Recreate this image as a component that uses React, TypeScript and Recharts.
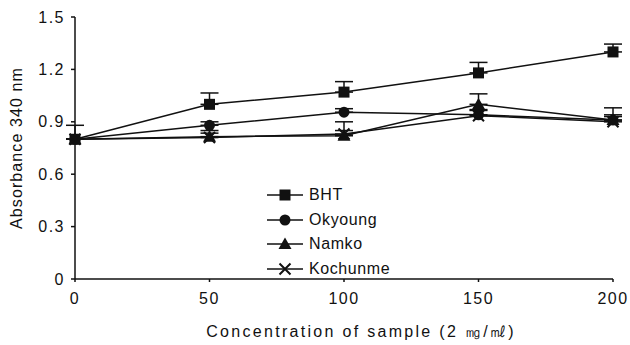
import React from 'react';
import { LineChart, Line, XAxis, YAxis, ErrorBar } from 'recharts';

const concentrations = [0, 50, 100, 150, 200];
const bht = [0.8, 1.0, 1.07, 1.18, 1.3];
const bhtErr = [0.08, 0.065, 0.06, 0.06, 0.045];
const okyoung = [0.8, 0.88, 0.955, 0.94, 0.91];
const okyoungErr = [0, 0.02, 0.02, 0.03, 0.03];
const namko = [0.8, 0.815, 0.82, 1.0, 0.91];
const namkoErr = [0, 0.02, 0.03, 0.06, 0.07];
const kochunme = [0.8, 0.81, 0.83, 0.935, 0.9];
const kochunmeErr = [0, 0.04, 0.07, 0.03, 0.03];
const yTicks = [0, 0.3, 0.6, 0.9, 1.2, 1.5];

// error bars only drawn upward, the lower half sits under the marker
const up = (e: number) => [0, e];

const data = concentrations.map((c, i) => ({
  c,
  bht: bht[i], bhtErr: up(bhtErr[i]),
  okyoung: okyoung[i], okyoungErr: up(okyoungErr[i]),
  namko: namko[i], namkoErr: up(namkoErr[i]),
  kochunme: kochunme[i], kochunmeErr: up(kochunmeErr[i]),
}));

const INK = '#111';
const FONT = 'Arial, "Liberation Sans", sans-serif';

const Square = ({ cx, cy }: any) => <rect x={cx - 5.5} y={cy - 5.5} width={11} height={11} fill={INK} />;
const Circle = ({ cx, cy }: any) => <circle cx={cx} cy={cy} r={5.5} fill={INK} />;
const Triangle = ({ cx, cy }: any) => (
  <polygon points={`${cx},${cy - 6.5} ${cx + 6.5},${cy + 5} ${cx - 6.5},${cy + 5}`} fill={INK} />
);
const Cross = ({ cx, cy }: any) => (
  <path d={`M${cx - 5.5},${cy - 5.5}L${cx + 5.5},${cy + 5.5}M${cx + 5.5},${cy - 5.5}L${cx - 5.5},${cy + 5.5}`} stroke={INK} strokeWidth={2} />
);

const series = [
  { key: 'bht', name: 'BHT', Dot: Square },
  { key: 'okyoung', name: 'Okyoung', Dot: Circle },
  { key: 'namko', name: 'Namko', Dot: Triangle },
  { key: 'kochunme', name: 'Kochunme', Dot: Cross },
];

const LegendBox = () => (
  <div style={{ position: 'absolute', left: 265, top: 183, fontFamily: FONT, fontSize: 16, color: INK, letterSpacing: 0.6 }}>
    {series.map(({ key, name, Dot }) => (
      <div key={key} style={{ display: 'flex', alignItems: 'center', height: 24.5 }}>
        <svg width={40} height={16}>
          <line x1={2} y1={8} x2={38} y2={8} stroke={INK} strokeWidth={1.5} />
          <Dot cx={20} cy={8} />
        </svg>
        <span style={{ marginLeft: 4 }}>{name}</span>
      </div>
    ))}
  </div>
);

export default function App() {
  return (
    <div style={{ position: 'fixed', left: 0, top: 0, width: 630, height: 345, background: '#fff' }}>
      <LineChart width={630} height={345} data={data} margin={{ top: 17, right: 17, left: 0, bottom: 0 }}>
        <XAxis
          dataKey="c"
          type="number"
          domain={[0, 200]}
          ticks={concentrations}
          height={66}
          stroke={INK}
          strokeWidth={1.5}
          tickSize={3}
          tickMargin={11}
          tick={{ fill: INK, fontSize: 16, fontFamily: FONT, letterSpacing: 1.5 }}
          label={{
            value: 'Concentration of sample (2 ㎎/㎖)',
            position: 'insideBottom',
            offset: 8,
            dx: 17,
            style: { fill: INK, fontSize: 16, fontFamily: FONT, letterSpacing: 2.3 },
          }}
        />
        <YAxis
          type="number"
          domain={[0, 1.5]}
          ticks={yTicks}
          width={75}
          stroke={INK}
          strokeWidth={1.5}
          tickSize={4}
          tickMargin={6}
          tickFormatter={(v: number) => (v === 0 ? '0' : v.toFixed(1))}
          tick={{ fill: INK, fontSize: 16, fontFamily: FONT, letterSpacing: 1.5 }}
          label={{
            value: 'Absorbance 340 nm',
            angle: -90,
            position: 'insideLeft',
            offset: 16,
            style: { fill: INK, fontSize: 16, fontFamily: FONT, letterSpacing: 1.1, textAnchor: 'middle' },
          }}
        />
        {series.map(({ key, name, Dot }) => (
          <Line
            key={key}
            dataKey={key}
            name={name}
            stroke={INK}
            strokeWidth={1.5}
            dot={<Dot />}
            activeDot={false}
            isAnimationActive={false}
          >
            <ErrorBar dataKey={`${key}Err`} width={9} stroke={INK} strokeWidth={1.5} direction="y" />
          </Line>
        ))}
      </LineChart>
      <LegendBox />
    </div>
  );
}
